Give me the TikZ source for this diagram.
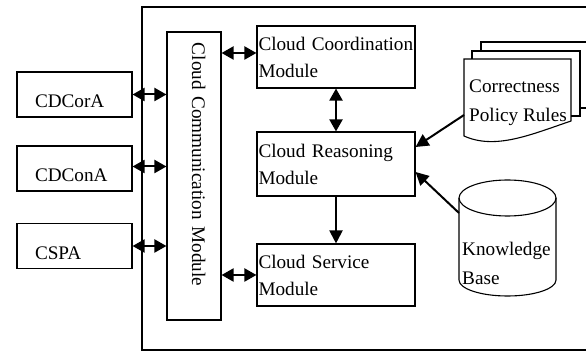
\documentclass[tikz,border=0pt]{standalone}
\usepackage{fontspec}
\setmainfont{Liberation Serif}
\usetikzlibrary{arrows.meta}
\begin{document}
\begin{tikzpicture}[x=1pt,y=-1pt,
  frame/.style={draw, line width=1.1pt},
  modbox/.style={draw, line width=1.1pt, minimum width=158pt, minimum height=#1, inner xsep=1.5pt, inner ysep=0pt, text width=155pt, align=left, font=\fontsize{19.2}{27}\selectfont},
  agent/.style={draw, line width=1.1pt, minimum width=115pt, minimum height=45pt, inner xsep=18pt, inner ysep=0pt, text width=79pt, align=left, text height=27pt, text depth=0pt, font=\fontsize{19.2}{23}\selectfont},
  conn/.style={line width=2pt, -{Triangle[length=13pt,width=13pt]}},
  biconn/.style={line width=2pt, {Triangle[length=12pt,width=13pt]}-{Triangle[length=12pt,width=13pt]}},
  freetext/.style={anchor=base west, align=left, inner sep=0pt, font=\fontsize{19.2}{29}\selectfont},
]
\useasboundingbox (0,0) rectangle (586,352);
% outer frame
\draw[frame] (142,7) rectangle (600,350);
% agents
\node[agent] (cdcora) at (74.5,94.5) {CDCorA};
\node[agent] (cdcona) at (74.5,168.5) {CDConA};
\node[agent] (cspa) at (74.5,246) {CSPA};
% communication module
\node[draw, line width=1.1pt, rotate=-90, minimum width=288pt, minimum height=54pt, inner xsep=11pt, inner ysep=0pt, text width=266pt, align=left, text height=13pt, text depth=9pt, font=\fontsize{19.2}{23}\selectfont] (comm) at (194,176) {Cloud Communication Module};
% modules
\node[modbox=62pt] (coord) at (336,57) {Cloud Coordination\\Module};
\node[modbox=64pt] (reas) at (336,164) {Cloud Reasoning\\Module};
\node[modbox=62pt] (serv) at (336,275) {Cloud Service\\Module};
% document stack
\draw[frame] (481,51) -- (481,42) -- (589,42) -- (589,108) -- (580,108);
\draw[frame] (472,59) -- (472,51) -- (580,51) -- (580,116) -- (571,116);
\draw[frame] (464,59) -- (571,59) -- (571,121) .. controls (530,135) and (495,150) .. (464,136) -- cycle;
\node[freetext] (rules) at (469,122) {Correctness\\Policy Rules};
\coordinate (docin) at (464,115);
% knowledge base cylinder
\draw[frame] (507.5,198) ellipse [x radius=48.5, y radius=18];
\draw[frame] (459,198) -- (459,280) arc[start angle=180, end angle=0, x radius=48.5, y radius=16] -- (556,198);
\node[freetext] (kb) at (462,285) {Knowledge\\Base};
\coordinate (kbin) at (459,213);
% connectors
\draw[biconn] (cdcora.east) -- (cdcora.east -| comm.south);
\draw[biconn] ([yshift=2pt]cdcona.east) -- ([yshift=2pt]cdcona.east -| comm.south);
\draw[biconn] (cspa.east) -- (cspa.east -| comm.south);
\draw[biconn] ([yshift=4pt]coord.west) -- ([yshift=4pt]coord.west -| comm.north);
\draw[biconn] (serv.west) -- (serv.west -| comm.north);
\draw[biconn] (coord.south) -- (reas.north);
\draw[conn] (reas.south) -- (serv.north);
\draw[conn] (docin) -- ([yshift=17pt]reas.east);
\draw[conn] (kbin) -- ([yshift=-8pt]reas.east);
\end{tikzpicture}
\end{document}
